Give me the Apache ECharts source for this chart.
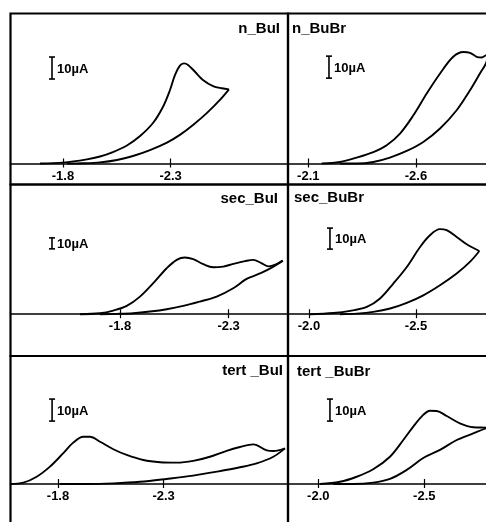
<!DOCTYPE html>
<html><head><meta charset="utf-8">
<script src="https://cdn.jsdelivr.net/npm/echarts@6/dist/echarts.min.js"></script>
<style>html,body{margin:0;padding:0;background:#fff}#c{width:486px;height:522px}</style>
</head><body><div id="c"></div>
<script>
// ---------- DATA (potential V, current µA) ----------
const panelNames = ['n_BuI', 'n_BuBr', 'sec_BuI', 'sec_BuBr', 'tert _BuI', 'tert _BuBr'];
const tickLabels = [[-1.8, -2.3], [-2.1, -2.6], [-1.8, -2.3], [-2.0, -2.5], [-1.8, -2.3], [-2.0, -2.5]];

const nBuI_forward = [[-1.693,0],[-1.800,0.4],[-1.911,1.9],[-1.972,3.2],[-2.032,5.2],[-2.097,8.2],[-2.158,12.5],[-2.218,18.4],[-2.264,25.7],[-2.297,33.4],[-2.320,40.2],[-2.343,44.5],[-2.362,45.5],[-2.381,44.8],[-2.413,41.7],[-2.450,38.0],[-2.497,35.2],[-2.538,34.2],[-2.571,33.7]];
const nBuI_reverse = [[-2.571,33.7],[-2.529,28.9],[-2.469,23.0],[-2.404,17.5],[-2.343,13.0],[-2.283,9.5],[-2.204,6.1],[-2.125,3.4],[-2.051,1.6],[-1.972,0.5],[-1.893,0.1],[-1.819,0]];

const nBuBr_forward = [[-2.162,0],[-2.247,0.7],[-2.325,2.7],[-2.402,5.2],[-2.464,8.3],[-2.526,13.6],[-2.588,21.9],[-2.650,31.8],[-2.712,40.9],[-2.773,48.5],[-2.820,50.7],[-2.851,50.3],[-2.882,48.5],[-2.905,48.2],[-2.925,49.2],[-2.935,49.5]];
const nBuBr_reverse = [[-2.935,49.5],[-2.925,45.5],[-2.897,40.9],[-2.851,33.3],[-2.789,24.2],[-2.712,15.9],[-2.634,9.8],[-2.557,5.7],[-2.479,2.7],[-2.402,0.7],[-2.325,0],[-2.247,0]];

const secBuI_forward = [[-1.616,0],[-1.708,0.9],[-1.769,3.3],[-1.831,7.5],[-1.892,16.0],[-1.953,28.2],[-2.015,41.8],[-2.061,49.4],[-2.099,51.5],[-2.137,50.0],[-2.183,45.5],[-2.229,42.7],[-2.275,43.3],[-2.321,45.7],[-2.375,48.2],[-2.413,49.4],[-2.450,46.5],[-2.483,43.5],[-2.520,45.5],[-2.549,48.7]];
const secBuI_reverse = [[-2.549,48.7],[-2.500,42.5],[-2.450,37.5],[-2.398,33.5],[-2.375,31.2],[-2.321,23.6],[-2.245,16.0],[-2.168,11.5],[-2.091,7.5],[-2.015,4.5],[-1.938,2.4],[-1.861,0.9],[-1.785,0.3],[-1.708,0]];

const secBuBr_forward = [[-2.005,0],[-2.114,0.6],[-2.192,1.6],[-2.270,3.5],[-2.332,7.5],[-2.394,14.6],[-2.457,22.5],[-2.519,32.0],[-2.565,37.6],[-2.612,40.5],[-2.643,40.0],[-2.690,36.8],[-2.737,33.3],[-2.796,30.1]];
const secBuBr_reverse = [[-2.796,30.1],[-2.752,24.9],[-2.690,19.4],[-2.612,13.8],[-2.534,9.0],[-2.457,5.4],[-2.379,2.7],[-2.300,1.1],[-2.223,0.3],[-2.145,0]];

const tertBuI_forward = [[-1.573,0],[-1.636,0.6],[-1.699,3.3],[-1.762,7.9],[-1.825,14.0],[-1.872,18.8],[-1.920,21.5],[-1.951,21.5],[-1.999,19.2],[-2.062,15.8],[-2.125,13.2],[-2.204,10.9],[-2.283,9.9],[-2.362,9.7],[-2.440,10.5],[-2.519,12.4],[-2.598,15.1],[-2.661,16.8],[-2.724,18.0],[-2.788,15.3],[-2.820,15.0],[-2.874,16.2]];
const tertBuI_reverse = [[-2.874,16.2],[-2.819,12.4],[-2.740,9.4],[-2.661,7.6],[-2.551,5.6],[-2.440,3.8],[-2.314,2.3],[-2.188,1.0],[-2.062,0.3],[-1.936,0],[-1.809,0]];

const tertBuBr_forward = [[-2.008,0],[-2.102,1.0],[-2.181,3.3],[-2.259,6.7],[-2.338,12.4],[-2.401,20.0],[-2.448,26.1],[-2.495,31.4],[-2.527,33.3],[-2.558,33.2],[-2.606,30.9],[-2.668,27.6],[-2.731,25.8],[-2.791,25.6],[-2.800,25.5]];
const tertBuBr_reverse = [[-2.800,25.5],[-2.791,25.3],[-2.731,23.0],[-2.653,20.0],[-2.574,15.5],[-2.495,11.8],[-2.417,6.4],[-2.338,2.3],[-2.259,0.6],[-2.165,0],[-2.071,0]];

const forwardScans = [nBuI_forward, nBuBr_forward, secBuI_forward, secBuBr_forward, tertBuI_forward, tertBuBr_forward];
const reverseScans = [nBuI_reverse, nBuBr_reverse, secBuI_reverse, secBuBr_reverse, tertBuI_reverse, tertBuBr_reverse];

// 10 µA scale bar anchors (potential, current at the bar's lower end)
const scaleBarAnchors = [[-1.749,38.4],[-2.196,38.8],[-1.487,59.4],[-2.098,31.0],[-1.772,28.6],[-2.055,28.6]];
const scaleBarSize = 10;

// ---------- LAYOUT ----------
const gridBoxes = [
  {left:10.5, top:13.5, width:277.5, height:171},
  {left:288,  top:13.5, width:202,   height:171},
  {left:10.5, top:184.5, width:277.5, height:171.5},
  {left:288,  top:184.5, width:202,   height:171.5},
  {left:10.5, top:356, width:277.5, height:170},
  {left:288,  top:356, width:202,   height:170}
];
// distance from each grid's bottom edge up to its zero-current baseline
const baselineLift = [21, 21, 41.8, 41.8, 42, 42];
const xRanges = [[-2.8451,-1.5562],[-2.9439,-2.0057],[-2.5731,-1.2961],[-2.8458,-1.9019],[-2.8885,-1.5752],[-2.8099,-1.8571]];
const yRanges = [[-9.545,68.18],[-9.545,68.18],[-38,117.9],[-19.9,61.76],[-19.09,58.18],[-19.09,58.18]];
const titlePos = [
  {right:206, top:21},{left:292, top:21},
  {right:208, top:191},{left:294, top:190},
  {right:203, top:363},{left:297, top:364}
];

const FONT = '"Liberation Sans", Arial, sans-serif';
const grids = [], xAxes = [], yAxes = [], series = [], titles = [];

function renderScaleBar(params, api) {
  const v = api.value(0), c = api.value(1);
  const p0 = api.coord([v, c]);
  const p1 = api.coord([v, c + scaleBarSize]);
  const cap = 3;
  const st = {stroke:'#000', lineWidth:1.6};
  return {type:'group', children:[
    {type:'line', shape:{x1:p0[0], y1:p0[1], x2:p1[0], y2:p1[1]}, style:st},
    {type:'line', shape:{x1:p0[0]-cap, y1:p0[1], x2:p0[0]+cap, y2:p0[1]}, style:st},
    {type:'line', shape:{x1:p1[0]-cap, y1:p1[1], x2:p1[0]+cap, y2:p1[1]}, style:st},
    {type:'text', style:{text:'10\u00b5A', x:p0[0]+5, y:(p0[1]+p1[1])/2+1, align:'left', verticalAlign:'middle',
      font:'bold 13px ' + FONT, fill:'#000'}}
  ]};
}

for (let i = 0; i < 6; i++) {
  grids.push(Object.assign({show:true, borderColor:'#000', borderWidth:2.2, backgroundColor:'transparent',
    containLabel:false, outerBoundsMode:'none'}, gridBoxes[i]));
  const base = {type:'value', gridIndex:i, min:xRanges[i][0], max:xRanges[i][1], inverse:true,
    position:'bottom', offset:-baselineLift[i], splitLine:{show:false}};
  xAxes.push(Object.assign({}, base, {
    axisLine:{show:true, onZero:false, lineStyle:{color:'#000', width:1.6}},
    axisTick:{show:true, inside:false, length:4, customValues:tickLabels[i], lineStyle:{color:'#000', width:1.2}},
    axisLabel:{show:true, customValues:tickLabels[i], formatter:function(v){return v.toFixed(1);},
      margin:6, color:'#000', fontFamily:FONT, fontWeight:'bold', fontSize:13}
  }));
  xAxes.push(Object.assign({}, base, {
    axisLine:{show:false, onZero:false},
    axisTick:{show:true, inside:true, length:5, customValues:tickLabels[i], lineStyle:{color:'#000', width:1.2}},
    axisLabel:{show:false}
  }));
  yAxes.push({type:'value', gridIndex:i, min:yRanges[i][0], max:yRanges[i][1], show:false, splitLine:{show:false}});

  const lineCommon = {type:'line', xAxisIndex:2*i, yAxisIndex:i, showSymbol:false, smooth:0.35, clip:true,
    lineStyle:{color:'#000', width:1.9}, silent:true};
  series.push(Object.assign({}, lineCommon, {name:panelNames[i]+' forward', data:forwardScans[i]}));
  series.push(Object.assign({}, lineCommon, {name:panelNames[i]+' reverse', data:reverseScans[i]}));
  series.push({type:'custom', xAxisIndex:2*i, yAxisIndex:i, clip:false, silent:true,
    renderItem:renderScaleBar, data:[scaleBarAnchors[i]]});

  titles.push(Object.assign({text:panelNames[i], padding:0,
    textStyle:{fontFamily:FONT, fontWeight:'bold', fontSize:15, color:'#000'}}, titlePos[i]));
}

const chart = echarts.init(document.getElementById('c'), null, {renderer:'canvas'});
chart.setOption({
  backgroundColor:'#fff',
  animation:false,
  title:titles,
  grid:grids,
  xAxis:xAxes,
  yAxis:yAxes,
  series:series
});
</script>
</body></html>
